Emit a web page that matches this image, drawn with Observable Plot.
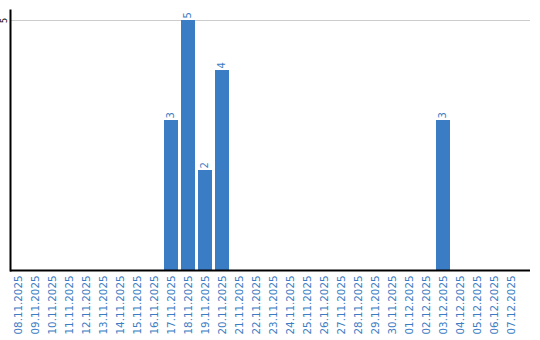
<!DOCTYPE html>
<html>
<head>
<meta charset="utf-8">
<script src="https://cdn.jsdelivr.net/npm/d3@7"></script>
<script src="https://cdn.jsdelivr.net/npm/@observablehq/plot@0.6"></script>
<style>
  html, body { margin: 0; padding: 0; background: #fff; }
  #chart svg { display: block; }
</style>
</head>
<body>
<div id="chart"></div>
<script>
const dates = [
  "08.11.2025","09.11.2025","10.11.2025","11.11.2025","12.11.2025","13.11.2025",
  "14.11.2025","15.11.2025","16.11.2025","17.11.2025","18.11.2025","19.11.2025",
  "20.11.2025","21.11.2025","22.11.2025","23.11.2025","24.11.2025","25.11.2025",
  "26.11.2025","27.11.2025","28.11.2025","29.11.2025","30.11.2025","01.12.2025",
  "02.12.2025","03.12.2025","04.12.2025","05.12.2025","06.12.2025","07.12.2025"
];
const counts = [
  0,0,0,0,0,0,
  0,0,0,3,5,2,
  4,0,0,0,0,0,
  0,0,0,0,0,0,
  0,3,0,0,0,0
];
const yTicks = [5];

const data = dates.map((d, i) => ({date: d, count: counts[i]}));
const nonZero = data.filter(d => d.count > 0);

const blue = "#3b7dc4";

const chart = Plot.plot({
  width: 540,
  height: 340,
  marginLeft: 10,
  marginRight: 10,
  marginTop: 10,
  marginBottom: 70,
  style: {fontFamily: "DejaVu Sans, sans-serif", background: "#fff"},
  x: {domain: dates, range: [9, 520], paddingInner: 0.18, paddingOuter: 0.09},
  y: {domain: [0, 5.2]},
  marks: [
    Plot.ruleY(yTicks, {stroke: "#cccccc", strokeWidth: 1}),
    Plot.barY(data, {x: "date", y: "count", fill: blue}),
    Plot.text(nonZero, {
      x: "date", y: "count", text: d => String(d.count),
      rotate: -90, textAnchor: "start", lineAnchor: "middle",
      dx: -1, dy: -2, fill: blue, fontSize: 10
    }),
    Plot.axisX({
      tickRotate: -90, tickSize: 0, tickPadding: 5,
      fill: blue, fontSize: 10.3, label: null
    }),
    Plot.axisY({
      ticks: yTicks, tickFormat: d => String(d), tickRotate: -90, tickSize: 0, tickPadding: 4,
      fill: "#000", fontSize: 8, label: null
    }),
    Plot.ruleY([0], {stroke: "#000", strokeWidth: 2}),
    Plot.frame({anchor: "left", stroke: "#000", strokeWidth: 2})
  ]
});
document.getElementById("chart").appendChild(chart);
</script>
</body>
</html>
